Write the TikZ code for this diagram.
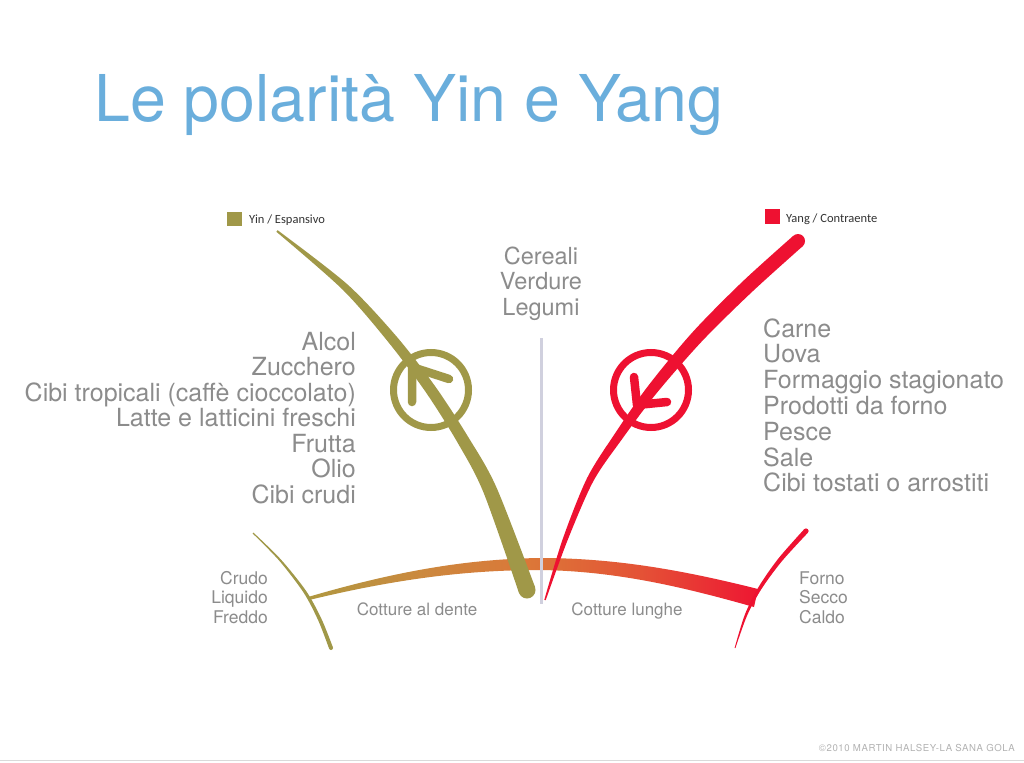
\documentclass[tikz,border=0pt]{standalone}
\usepackage{fontspec}
\setmainfont{TeX Gyre Heros}
\newfontfamily\legendfont{Carlito}
\definecolor{olivearrow}{RGB}{160,152,72}
\definecolor{redarrow}{RGB}{238,17,49}
\definecolor{bandleft}{RGB}{176,152,64}
\definecolor{bandone}{RGB}{204,136,62}
\definecolor{bandmid}{RGB}{220,118,56}
\definecolor{bandtwo}{RGB}{228,82,54}
\definecolor{bandright}{RGB}{238,22,50}
\definecolor{txtgray}{RGB}{140,140,140}
\definecolor{titleblue}{RGB}{106,174,220}
\definecolor{axisgray}{RGB}{208,208,222}
\definecolor{legendtext}{RGB}{50,50,50}
\definecolor{copygray}{RGB}{178,178,178}
\definecolor{rulegray}{RGB}{218,218,218}
\pgfdeclarehorizontalshading{bandshade}{100bp}{color(0bp)=(bandleft); color(25bp)=(bandleft); color(38bp)=(bandone); color(50bp)=(bandmid); color(62bp)=(bandtwo); color(75bp)=(bandright); color(100bp)=(bandright)}
\begin{document}
\begin{tikzpicture}[x=1pt,y=-1pt,
  listtext/.style={text=txtgray, inner sep=0pt, font=\fontsize{25}{25.5}\selectfont},
  centertext/.style={text=txtgray, inner sep=0pt, font=\fontsize{23.5}{25}\selectfont},
  sidetext/.style={text=txtgray, inner sep=0pt, font=\fontsize{17.5}{19.5}\selectfont},
  cooktext/.style={text=txtgray, inner sep=0pt, font=\fontsize{17}{19}\selectfont},
  legendlabel/.style={text=legendtext, inner sep=0pt, font=\legendfont\fontsize{12.5}{13}\selectfont},
  chevron/.style={line width=8.5pt, line cap=round, line join=round}]
\useasboundingbox (0,0) rectangle (1024,762);
\fill[white] (0,0) rectangle (1024,762);

% title
\node[anchor=base west, inner sep=0pt, text=titleblue, font=\fontsize{64.5}{64.5}\selectfont] (title) at (94,122) {Le polarità Yin e Yang};

% legend
\fill[olivearrow] (227,212) rectangle (242,226);
\node[legendlabel, anchor=base west] (yinlegend) at (249,223) {Yin / Espansivo};
\fill[redarrow] (765,209) rectangle (780,224);
\node[legendlabel, anchor=base west] (yanglegend) at (786,222) {Yang / Contraente};

% bottom band with gradient
\shade[shading=bandshade]
  (308,597) .. controls (400,570) and (470,559) .. (540,558)
  .. controls (620,558) and (690,572) .. (758,589) -- (754,607)
  .. controls (690,589) and (620,571) .. (540,570)
  .. controls (470,570) and (400,578) .. (309,600) -- cycle;

% Crudo arc
\fill[olivearrow] plot[smooth] coordinates {(253.4,532.6) (280.75,559.34) (306.25,591.17) (321.63,619.24) (332.86,647.27)}
  -- plot[smooth] coordinates {(329.14,648.73) (318.37,620.76) (303.75,592.83) (279.25,560.66) (252.6,533.4)} -- cycle;
\fill[olivearrow] (331,648) circle[radius=2pt];

% Forno arc
\fill[redarrow] plot[smooth] coordinates {(807.9,532.7) (781.7,561.4) (761.5,588.9) (747.1,615.5) (735.4,648.1)}
  -- plot[smooth] coordinates {(734.6,647.9) (744.9,614.5) (758.5,587.1) (778.3,558.6) (804.1,529.3)} -- cycle;
\fill[redarrow] (806,531) circle[radius=2.6pt];

% central axis
\draw[axisgray, line width=3pt] (541,338) -- (541,604);

% Yin arrow
\fill[olivearrow] plot[smooth] coordinates {(276.4,231.8) (342.6,289.6) (389.2,343.2) (426.5,393.2) (457.8,443.0) (483.6,492.7) (519.0,593.0)}
  -- plot[smooth] coordinates {(535.0,587.0) (496.4,487.3) (468.2,437.0) (435.5,386.8) (396.8,336.8) (347.4,284.4) (277.6,230.2)} -- cycle;
\fill[olivearrow] (527,590) circle[radius=8.5pt];
\draw[olivearrow, line width=7pt] (431,390) circle[radius=37.5pt];
\draw[olivearrow, chevron] (449,379) -- (412,367) -- (412,402);

% Yang arrow
\fill[redarrow] plot[smooth] coordinates {(802.7,246.2) (751.8,292.1) (701.9,341.3) (656.4,393.4) (621.6,439.7) (593.1,481.6) (567.3,540.9) (545.7,600.2)}
  -- plot[smooth] coordinates {(544.3,599.8) (562.7,539.1) (586.9,478.4) (614.4,434.3) (647.6,386.6) (692.1,332.7) (742.2,281.9) (793.3,235.8)} -- cycle;
\fill[redarrow] (798,241) circle[radius=7pt];
\draw[redarrow, line width=7pt] (651,390) circle[radius=37.5pt];
\draw[redarrow, chevron] (634,377) -- (637,405) -- (667,402);

% lists
\foreach \t [count=\i] in {Alcol, Zucchero, Cibi tropicali (caffè cioccolato), Latte e latticini freschi, Frutta, Olio, Cibi crudi}
  \node[listtext, anchor=base east] (yin\i) at (356,{350+25.5*(\i-1)}) {\t};
\foreach \t [count=\i] in {Carne, Uova, Formaggio stagionato, Prodotti da forno, Pesce, Sale, Cibi tostati o arrostiti}
  \node[listtext, anchor=base west] (yang\i) at (763,{337+25.8*(\i-1)}) {\t};
\foreach \t [count=\i] in {Cereali, Verdure, Legumi}
  \node[centertext, anchor=base] (mid\i) at (541,{264+25.5*(\i-1)}) {\t};

% bottom labels
\foreach \t [count=\i] in {Crudo, Liquido, Freddo}
  \node[sidetext, anchor=base east] (cold\i) at (268,{584+19.5*(\i-1)}) {\t};
\foreach \t [count=\i] in {Forno, Secco, Caldo}
  \node[sidetext, anchor=base west] (hot\i) at (799,{584+19.5*(\i-1)}) {\t};
\node[cooktext, anchor=base] (dente) at (417,615) {Cotture al dente};
\node[cooktext, anchor=base] (lunghe) at (627,615) {Cotture lunghe};

% footer
\node[anchor=base east, inner sep=0pt, text=copygray, font=\fontsize{9.6}{10}\selectfont\addfontfeature{LetterSpace=6}] (copyright) at (1015,751) {©2010 MARTIN HALSEY-LA SANA GOLA};
\draw[rulegray, line width=1pt] (0,760.5) -- (1024,760.5);
\end{tikzpicture}
\end{document}
